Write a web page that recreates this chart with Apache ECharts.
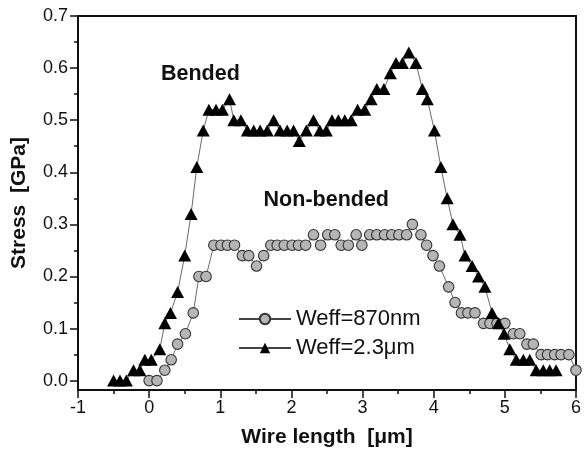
<!DOCTYPE html>
<html>
<head>
<meta charset="utf-8">
<script src="https://cdn.jsdelivr.net/npm/echarts@6/dist/echarts.min.js"></script>
<style>
  html, body { margin: 0; padding: 0; background: #fff; }
  #chart { width: 584px; height: 453px; }
</style>
</head>
<body>
<div id="chart"></div>
<script>
// Axis ticks
const xTicks = [-1, 0, 1, 2, 3, 4, 5, 6];
const yTicks = [0, 0.1, 0.2, 0.3, 0.4, 0.5, 0.6, 0.7];
const yMinorTicks = [0.05, 0.15, 0.25, 0.35, 0.45, 0.55, 0.65];

// Weff = 870 nm (non-bended wire): position [um] and stress [GPa]
const narrowX = [0.00, 0.11, 0.22, 0.31, 0.40, 0.51, 0.62, 0.70, 0.80, 0.91,
                 1.01, 1.10, 1.20, 1.31, 1.40, 1.51, 1.61, 1.71, 1.80, 1.90,
                 2.01, 2.10, 2.20, 2.31, 2.41, 2.51, 2.61, 2.70, 2.80, 2.91,
                 2.99, 3.10, 3.20, 3.31, 3.41, 3.51, 3.62, 3.70, 3.82, 3.90,
                 3.99, 4.08, 4.21, 4.30, 4.39, 4.48, 4.58, 4.70, 4.79, 4.89,
                 5.00, 5.12, 5.21, 5.31, 5.40, 5.51, 5.60, 5.70, 5.79, 5.90, 6.00];
const narrowY = [0.00, 0.00, 0.02, 0.04, 0.07, 0.09, 0.13, 0.20, 0.20, 0.26,
                 0.26, 0.26, 0.26, 0.24, 0.24, 0.22, 0.24, 0.26, 0.26, 0.26,
                 0.26, 0.26, 0.26, 0.28, 0.26, 0.28, 0.28, 0.26, 0.26, 0.28,
                 0.26, 0.28, 0.28, 0.28, 0.28, 0.28, 0.28, 0.30, 0.28, 0.26,
                 0.24, 0.22, 0.18, 0.15, 0.13, 0.13, 0.13, 0.11, 0.11, 0.11,
                 0.11, 0.09, 0.09, 0.07, 0.07, 0.05, 0.05, 0.05, 0.05, 0.05, 0.02];

// Weff = 2.3 um (bended wire): position [um] and stress [GPa]
const wideX = [-0.50, -0.41, -0.32, -0.22, -0.13, -0.06, 0.03, 0.15, 0.22, 0.30,
               0.40, 0.50, 0.59, 0.67, 0.76, 0.84, 0.94, 1.03, 1.13, 1.19,
               1.29, 1.38, 1.47, 1.56, 1.66, 1.75, 1.84, 1.94, 2.03, 2.11,
               2.21, 2.31, 2.40, 2.49, 2.57, 2.66, 2.75, 2.84, 2.93, 3.03,
               3.12, 3.20, 3.30, 3.39, 3.47, 3.56, 3.65, 3.75, 3.84, 3.91,
               4.01, 4.10, 4.19, 4.27, 4.37, 4.44, 4.54, 4.63, 4.72, 4.82,
               4.91, 4.99, 5.07, 5.16, 5.26, 5.35, 5.44, 5.54, 5.63, 5.72];
const wideY = [0.00, 0.00, 0.00, 0.02, 0.02, 0.04, 0.04, 0.06, 0.11, 0.13,
               0.17, 0.24, 0.32, 0.41, 0.48, 0.52, 0.52, 0.52, 0.54, 0.50,
               0.50, 0.48, 0.48, 0.48, 0.48, 0.50, 0.48, 0.48, 0.48, 0.46,
               0.48, 0.50, 0.48, 0.48, 0.50, 0.50, 0.50, 0.50, 0.52, 0.52,
               0.54, 0.56, 0.56, 0.59, 0.61, 0.61, 0.63, 0.61, 0.56, 0.54,
               0.48, 0.41, 0.35, 0.30, 0.28, 0.24, 0.22, 0.20, 0.18, 0.13,
               0.11, 0.09, 0.06, 0.04, 0.04, 0.04, 0.02, 0.02, 0.02, 0.02];

const seriesNames = ['Weff=870nm', 'Weff=2.3\u03bcm'];
const annotations = [
  { text: 'Bended', at: [0.72, 0.588] },
  { text: 'Non-bended', at: [2.49, 0.347] }
];

const FONT = "'Liberation Sans', Arial, Helvetica, sans-serif";
const zip = (xs, ys) => xs.map((x, i) => [x, ys[i]]);

const chart = echarts.init(document.getElementById('chart'), null, { renderer: 'canvas' });

const axisLine = { show: true, onZero: false, lineStyle: { color: '#111', width: 2 } };
const tickStyle = { color: '#111', width: 1.5 };
const annotationLabel = { show: true, position: 'inside', color: '#111', fontSize: 21.5,
                          fontWeight: 'bold', fontFamily: FONT };

chart.setOption({
  animation: false,
  backgroundColor: '#fff',
  grid: {
    left: 78, right: 4, top: 16, bottom: 63,
    show: true, borderColor: '#111', borderWidth: 2, backgroundColor: 'transparent'
  },
  xAxis: {
    type: 'value',
    min: xTicks[0], max: xTicks[xTicks.length - 1], interval: 1,
    axisLine: axisLine,
    axisTick: { show: true, inside: false, length: 8, lineStyle: tickStyle },
    minorTick: { show: true, splitNumber: 2, length: 4, lineStyle: tickStyle },
    splitLine: { show: false },
    axisLabel: { color: '#111', fontSize: 18, fontFamily: FONT, margin: 9 },
    name: 'Wire length  [\u03bcm]',
    nameLocation: 'middle', nameGap: 37,
    nameTextStyle: { color: '#111', fontSize: 21, fontWeight: 'bold', fontFamily: FONT }
  },
  yAxis: [{
    type: 'value', position: 'left',
    min: -0.018, max: 0.7,
    axisLine: axisLine,
    axisTick: { show: true, inside: false, length: 8, customValues: yTicks, lineStyle: tickStyle },
    splitLine: { show: false },
    axisLabel: { color: '#111', fontSize: 18, fontFamily: FONT, margin: 10,
                 customValues: yTicks, formatter: v => v.toFixed(1) },
    name: 'Stress  [GPa]',
    nameLocation: 'middle', nameGap: 48,
    nameTextStyle: { color: '#111', fontSize: 21, fontWeight: 'bold', fontFamily: FONT }
  }, {
    type: 'value', position: 'left', offset: 0,
    min: -0.018, max: 0.7,
    axisLine: { show: false, onZero: false },
    axisTick: { show: true, inside: false, length: 4, customValues: yMinorTicks, lineStyle: tickStyle },
    axisLabel: { show: false },
    splitLine: { show: false }
  }],
  legend: {
    orient: 'vertical', left: 233, top: 303,
    itemWidth: 52, itemHeight: 13, itemGap: 7,
    data: seriesNames,
    textStyle: { color: '#111', fontSize: 22, fontFamily: FONT }
  },
  series: [{
    name: seriesNames[0],
    type: 'line',
    data: zip(narrowX, narrowY),
    symbol: 'circle', symbolSize: 10.5,
    showAllSymbol: true,
    lineStyle: { color: '#444', width: 0.8 },
    itemStyle: { color: '#b5b5b5', borderColor: '#333', borderWidth: 1.1 },
    markPoint: {
      symbol: 'rect', symbolSize: 0, silent: true,
      label: annotationLabel,
      data: [{ coord: annotations[1].at, value: annotations[1].text,
               label: { formatter: annotations[1].text } }]
    }
  }, {
    name: seriesNames[1],
    type: 'line',
    data: zip(wideX, wideY),
    symbol: 'triangle', symbolSize: [13, 12],
    showAllSymbol: true,
    lineStyle: { color: '#444', width: 0.8 },
    itemStyle: { color: '#000', borderColor: '#000', borderWidth: 0 },
    markPoint: {
      symbol: 'rect', symbolSize: 0, silent: true,
      label: annotationLabel,
      data: [{ coord: annotations[0].at, value: annotations[0].text,
               label: { formatter: annotations[0].text } }]
    }
  }]
});
</script>
</body>
</html>
